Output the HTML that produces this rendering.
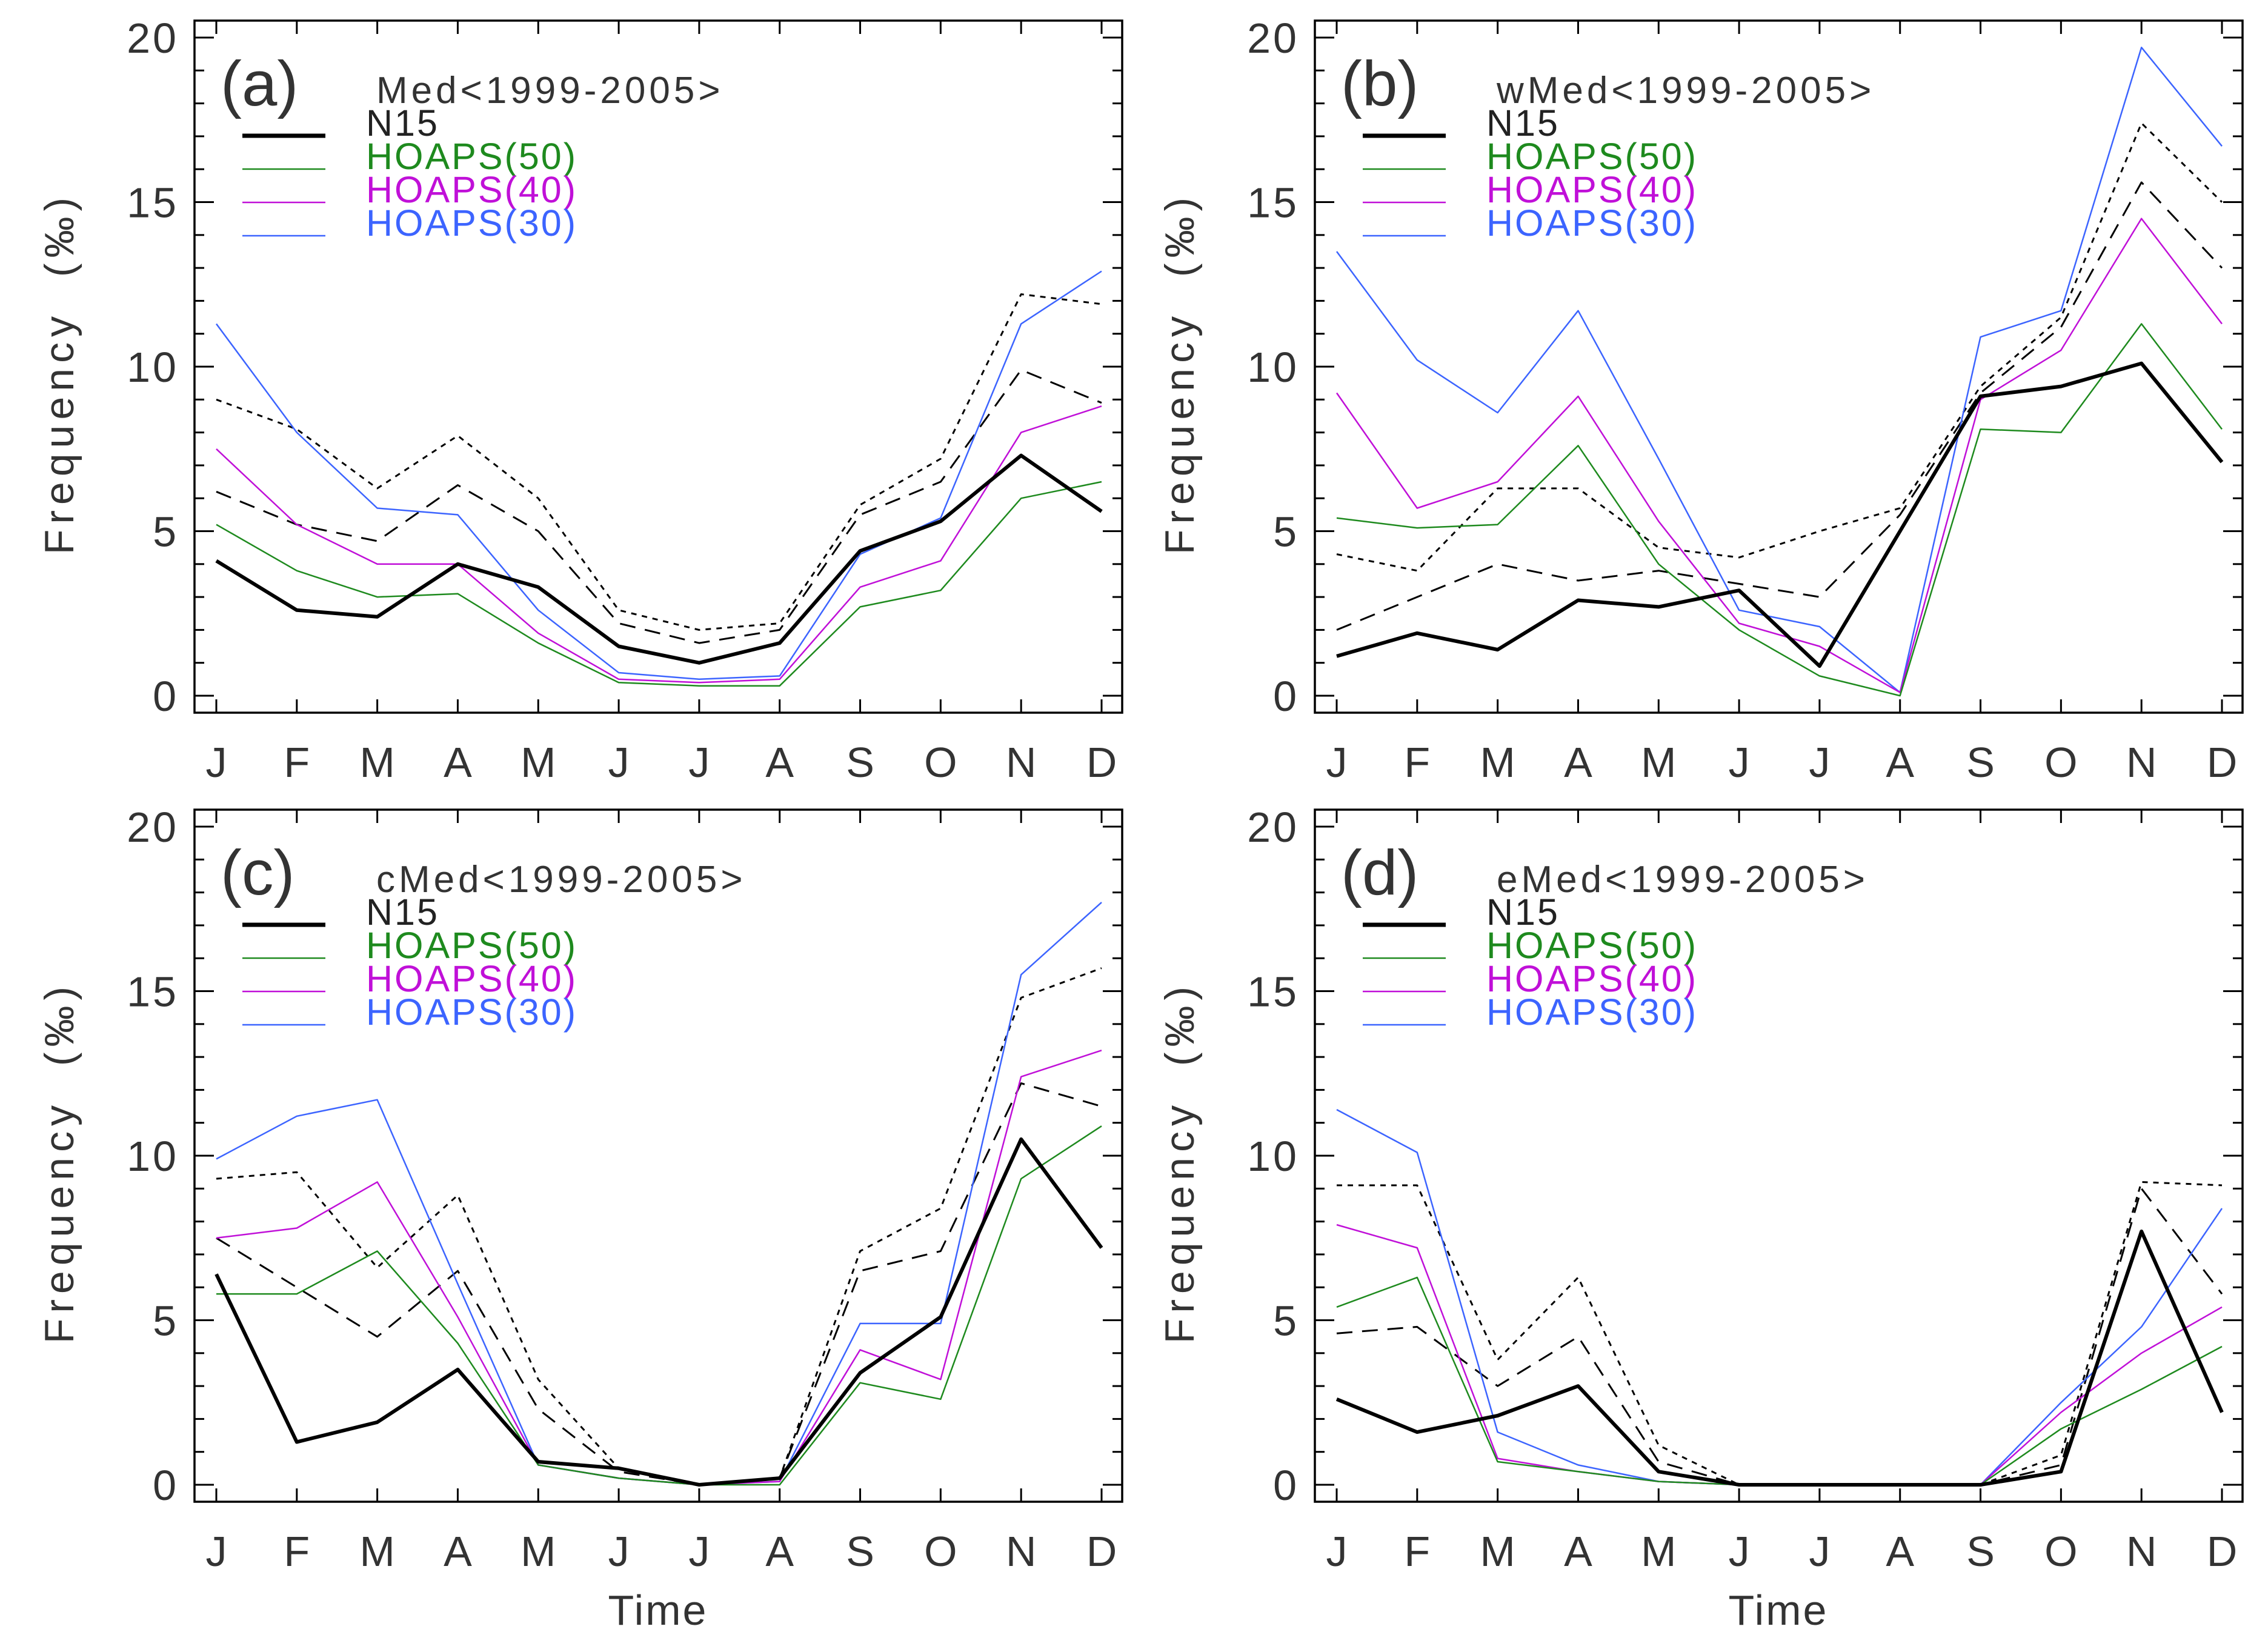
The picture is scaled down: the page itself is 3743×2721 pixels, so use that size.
<!DOCTYPE html>
<html><head><meta charset="utf-8"><style>
html,body{margin:0;padding:0;background:#fff;}
svg{display:block;}
text{font-family:"Liberation Sans",sans-serif;}
</style></head><body>
<svg id="fig" width="3743" height="2721" viewBox="0 0 3743 2721" xmlns="http://www.w3.org/2000/svg"></svg>
<script>
const months = ["J","F","M","A","M","J","J","A","S","O","N","D"];
const yTicks = [0,5,10,15,20];
const panelLabels = ["(a)","(b)","(c)","(d)"];
const panelTitles = ["Med<1999-2005>","wMed<1999-2005>","cMed<1999-2005>","eMed<1999-2005>"];
const legendNames = ["N15","HOAPS(50)","HOAPS(40)","HOAPS(30)"];
// panel a
const aN15 = [4.1,2.6,2.4,4.0,3.3,1.5,1.0,1.6,4.4,5.3,7.3,5.6];
const aH50 = [5.2,3.8,3.0,3.1,1.6,0.4,0.3,0.3,2.7,3.2,6.0,6.5];
const aH40 = [7.5,5.2,4.0,4.0,1.9,0.5,0.4,0.5,3.3,4.1,8.0,8.8];
const aH30 = [11.3,8.0,5.7,5.5,2.6,0.7,0.5,0.6,4.3,5.4,11.3,12.9];
const aDot = [9.0,8.1,6.3,7.9,6.0,2.6,2.0,2.2,5.8,7.2,12.2,11.9];
const aDash = [6.2,5.2,4.7,6.4,5.0,2.2,1.6,2.0,5.5,6.5,9.9,8.9];
// panel b
const bN15 = [1.2,1.9,1.4,2.9,2.7,3.2,0.9,5.0,9.1,9.4,10.1,7.1];
const bH50 = [5.4,5.1,5.2,7.6,4.0,2.0,0.6,0.0,8.1,8.0,11.3,8.1];
const bH40 = [9.2,5.7,6.5,9.1,5.3,2.2,1.5,0.1,9.0,10.5,14.5,11.3];
const bH30 = [13.5,10.2,8.6,11.7,7.2,2.6,2.1,0.1,10.9,11.7,19.7,16.7];
const bDot = [4.3,3.8,6.3,6.3,4.5,4.2,5.0,5.7,9.4,11.5,17.4,15.0];
const bDash = [2.0,3.0,4.0,3.5,3.8,3.4,3.0,5.5,9.2,11.2,15.6,13.0];
// panel c
const cN15 = [6.4,1.3,1.9,3.5,0.7,0.5,0.0,0.2,3.4,5.1,10.5,7.2];
const cH50 = [5.8,5.8,7.1,4.3,0.6,0.2,0.0,0.0,3.1,2.6,9.3,10.9];
const cH40 = [7.5,7.8,9.2,5.1,0.6,0.2,0.0,0.1,4.1,3.2,12.4,13.2];
const cH30 = [9.9,11.2,11.7,6.1,0.6,0.2,0.0,0.1,4.9,4.9,15.5,17.7];
const cDot = [9.3,9.5,6.6,8.8,3.2,0.5,0.0,0.2,7.1,8.4,14.8,15.7];
const cDash = [7.5,6.0,4.5,6.5,2.3,0.4,0.0,0.2,6.5,7.1,12.2,11.5];
// panel d
const dN15 = [2.6,1.6,2.1,3.0,0.4,0.0,0.0,0.0,0.0,0.4,7.7,2.2];
const dH50 = [5.4,6.3,0.7,0.4,0.1,0.0,0.0,0.0,0.0,1.7,2.9,4.2];
const dH40 = [7.9,7.2,0.8,0.4,0.1,0.0,0.0,0.0,0.0,2.2,4.0,5.4];
const dH30 = [11.4,10.1,1.6,0.6,0.1,0.0,0.0,0.0,0.0,2.5,4.8,8.4];
const dDot = [9.1,9.1,3.8,6.3,1.2,0.0,0.0,0.0,0.0,0.9,9.2,9.1];
const dDash = [4.6,4.8,3.0,4.5,0.7,0.0,0.0,0.0,0.0,0.6,9.0,5.8];

const panelsData = [
 [aN15,aH50,aH40,aH30,aDot,aDash],
 [bN15,bH50,bH40,bH30,bDot,bDash],
 [cN15,cH50,cH40,cH30,cDot,cDash],
 [dN15,dH50,dH40,dH30,dDot,dDash]];
const seriesNames = ["n15","hoaps50","hoaps40","hoaps30","dotted-ref","dashed-ref"];
const seriesColor = ["#000","#1e8a1e","#c010d8","#3c64ff","#000","#000"];
const seriesWidth = [6,2.5,2.5,2.5,3,3];
const seriesDash = [null,null,null,null,"9 9","26 16"];

const NS="http://www.w3.org/2000/svg";
const svg=document.getElementById("fig");
function mk(tag,attrs,parent){const e=document.createElementNS(NS,tag);for(const k in attrs)e.setAttribute(k,attrs[k]);(parent||svg).appendChild(e);return e;}

const W=1531,H=1142;
const origins=[[321,34],[2170,34],[321,1336],[2170,1336]];

panelsData.forEach((data,p)=>{
  const [L,T]=origins[p];
  const g=mk("g",{});
  
  
  const xs=i=>L+36+i*(1497-36)/11;
  const ys=v=>T+1114-v*(1086/20);
  for(let s=5;s>=0;s--){
    const vals=data[s];
    const pts=vals.map((v,i)=>xs(i).toFixed(1)+","+ys(v).toFixed(1)).join(" ");
    const a={points:pts,fill:"none",stroke:seriesColor[s],"stroke-width":seriesWidth[s],"stroke-linejoin":"round"};
    if(seriesDash[s])a["stroke-dasharray"]=seriesDash[s];
    const pl=mk("polyline",a,g);
    
    
  }
  const fr=mk("rect",{x:L,y:T,width:W,height:H,fill:"none",stroke:"#000","stroke-width":3.5},g);
  
  
  for(let v=0;v<=20;v++){
    const len=(v%5===0)?32:16;const y=ys(v);
    mk("line",{x1:L,x2:L+len,y1:y,y2:y,stroke:"#000","stroke-width":3},g);
    mk("line",{x1:L+W-len,x2:L+W,y1:y,y2:y,stroke:"#000","stroke-width":3},g);
  }
  yTicks.forEach(v=>{
    const t=mk("text",{x:L-26,y:ys(v)+25,"font-size":70,"text-anchor":"end",fill:"#333","letter-spacing":4},g);
    t.textContent=v;
    
    
  });
  months.forEach((m,i)=>{
    const x=xs(i);
    mk("line",{x1:x,x2:x,y1:T+H,y2:T+H-22,stroke:"#000","stroke-width":3},g);
    mk("line",{x1:x,x2:x,y1:T,y2:T+22,stroke:"#000","stroke-width":3},g);
    const t=mk("text",{x:x,y:T+1248,"font-size":70,"text-anchor":"middle",fill:"#333"},g);
    t.textContent=m;
    
    
  });
  const yt=mk("text",{x:0,y:0,"font-size":68,"text-anchor":"middle",fill:"#333","letter-spacing":9,transform:`translate(${L-200},${T+582}) rotate(-90)`},g);
  yt.textContent="Frequency\u00a0\u00a0(‰)";
  
  
  if(p>=2){
    const xt=mk("text",{x:L+765,y:T+1345,"font-size":70,"text-anchor":"middle",fill:"#333","letter-spacing":3},g);
    xt.textContent="Time";
    
    
  }
  const pl=mk("text",{x:L+43,y:T+140,"font-size":105,fill:"#333"},g);
  pl.textContent=panelLabels[p];
  
  
  const tt=mk("text",{x:L+300,y:T+136,"font-size":62,fill:"#333","letter-spacing":6},g);
  tt.textContent=panelTitles[p];
  
  
  legendNames.forEach((n,k)=>{
    const y=T+190+k*55;
    const ln=mk("line",{x1:L+79,x2:L+216,y1:y,y2:y,stroke:seriesColor[k],"stroke-width":k===0?7:2.5},g);
    
    
    const lt=mk("text",{x:L+283,y:y,"font-size":61,fill:k===0?"#222":seriesColor[k],"letter-spacing":3},g);
    lt.textContent=n;
    
    
  });
});
</script>
</body></html>
